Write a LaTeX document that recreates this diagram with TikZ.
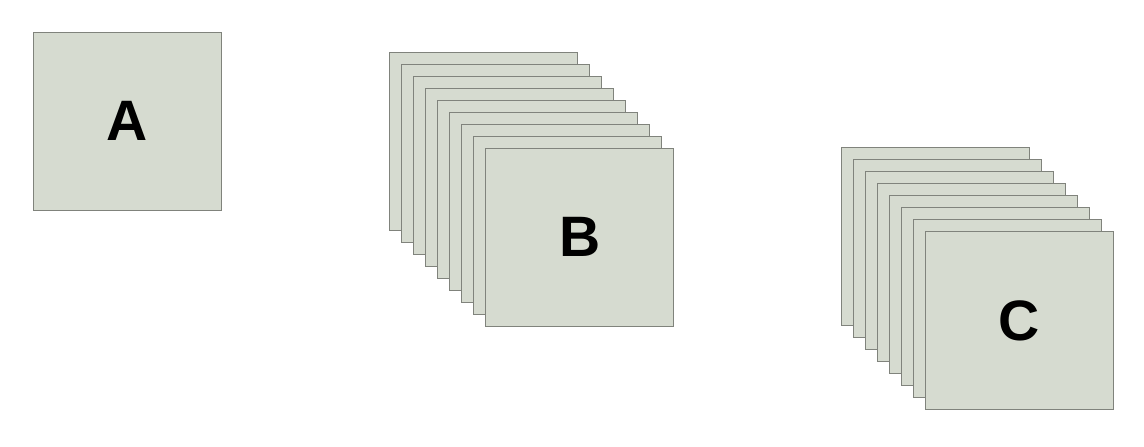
\documentclass[tikz,border=0pt]{standalone}
\usepackage{fontspec}
\setmainfont{Liberation Sans}
\definecolor{cardfill}{RGB}{214,219,208}
\definecolor{cardline}{RGB}{128,131,124}
\begin{document}
\begin{tikzpicture}[x=1pt,y=-1pt,
  card/.style={draw=cardline, fill=cardfill, line width=0.9pt, minimum width=188pt, minimum height=178pt, inner sep=0pt, outer sep=0pt, font=\fontsize{57}{60}\selectfont\bfseries}]
\useasboundingbox (0,0) rectangle (1144,447);
% A
\node[card] (A) at (127,121) {A};
% B stack (9 cards)
\foreach \i in {0,...,7} {
  \node[card] (B\i) at ({483+12.1*\i},{141+12*\i}) {};
}
\node[card] (B) at ({483+12.1*8},{141+12*8}) {B};
% C stack (8 cards)
\foreach \i in {0,...,6} {
  \node[card] (C\i) at ({935.5+12*\i},{236.5+12*\i}) {};
}
\node[card] (C) at ({935.5+12*7},{236.5+12*7}) {C};
\end{tikzpicture}
\end{document}
